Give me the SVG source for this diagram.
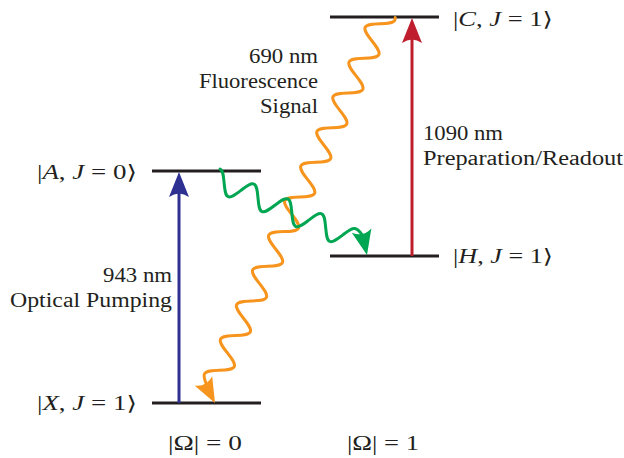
<svg xmlns="http://www.w3.org/2000/svg" xmlns:xlink="http://www.w3.org/1999/xlink" width="624" height="458" viewBox="0 0 624 458">
<style>
.lvl{stroke:#231f20;stroke-width:3;fill:none}
.t{font-family:"Liberation Serif","DejaVu Serif","DejaVu Sans",serif;font-size:20px;fill:#231f20}
.i{font-style:italic}
.wave{fill:none;stroke-width:3;stroke-linecap:round;stroke-linejoin:round}
</style>
<defs>
<path id="ah" d="M0,0 L-25,-10 Q-18,0 -25,10 Z"/>
</defs>
<rect width="624" height="458" fill="#ffffff"/>

<g id="level-X">
<line class="lvl" x1="152" y1="403" x2="261" y2="403"/>
<text class="t" x="37" y="410" textLength="100" lengthAdjust="spacingAndGlyphs">|<tspan class="i">X</tspan>, <tspan class="i">J</tspan> = 1⟩</text>
</g>
<g id="level-A">
<line class="lvl" x1="152" y1="171" x2="261" y2="171"/>
<text class="t" x="37" y="179" textLength="100" lengthAdjust="spacingAndGlyphs">|<tspan class="i">A</tspan>, <tspan class="i">J</tspan> = 0⟩</text>
</g>
<g id="level-H">
<line class="lvl" x1="330" y1="256" x2="439" y2="256"/>
<text class="t" x="453" y="263" textLength="100" lengthAdjust="spacingAndGlyphs">|<tspan class="i">H</tspan>, <tspan class="i">J</tspan> = 1⟩</text>
</g>
<g id="level-C">
<line class="lvl" x1="330" y1="17" x2="439" y2="17"/>
<text class="t" x="453" y="26" textLength="100" lengthAdjust="spacingAndGlyphs">|<tspan class="i">C</tspan>, <tspan class="i">J</tspan> = 1⟩</text>
</g>

<g id="connectors">
<line x1="179" y1="403" x2="179" y2="190" stroke="#2e3192" stroke-width="3"/>
<use xlink:href="#ah" fill="#2e3192" transform="translate(179,172) rotate(-90)"/>
<line x1="412" y1="256" x2="412" y2="36" stroke="#be1e2d" stroke-width="3"/>
<use xlink:href="#ah" fill="#be1e2d" transform="translate(412,18) rotate(-90)"/>

<path class="wave" stroke="#f7941d" transform="matrix(-0.4206,0.9073,0.9073,0.4206,372,41)" d="M-31,11.2 L-28.65,12 c3.46,0 6.44,-5.86 9.55,-12 s6.09,-12 9.55,-12 s6.44,5.86 9.55,12 s6.09,12 9.55,12 s6.44,-5.86 9.55,-12 s6.09,-12 9.55,-12 s6.44,5.86 9.55,12 s6.09,12 9.55,12 s6.44,-5.86 9.55,-12 s6.09,-12 9.55,-12 s6.44,5.86 9.55,12 s6.09,12 9.55,12 s6.44,-5.86 9.55,-12 s6.09,-12 9.55,-12 s6.44,5.86 9.55,12 s6.09,12 9.55,12 s6.44,-5.86 9.55,-12 s6.09,-12 9.55,-12 s6.44,5.86 9.55,12 s6.09,12 9.55,12 s6.44,-5.86 9.55,-12 s6.09,-12 9.55,-12 s6.44,5.86 9.55,12 s6.09,12 9.55,12 s6.44,-5.86 9.55,-12 s6.09,-12 9.55,-12 s6.44,5.86 9.55,12 s6.09,12 9.55,12 s6.44,-5.86 9.55,-12 s6.09,-12 9.55,-12 s6.44,5.86 9.55,12 s6.09,12 9.55,12 s6.44,-5.86 9.55,-12 s6.09,-12 9.55,-12 s6.44,5.86 9.55,12 s6.09,12 9.55,12 s6.44,-5.86 9.55,-12 s6.09,-12 9.55,-12 s6.44,5.86 9.55,12 s6.09,12 9.55,12 s6.44,-5.86 9.55,-12 s6.09,-12 9.55,-12 c3.05,0 8.95,6 11.35,9.2"/>
<use xlink:href="#ah" fill="#f7941d" transform="translate(215,403) rotate(62.2)"/>

<path class="wave" stroke="#00a651" transform="matrix(0.915,0.403,0.403,-0.915,241.05,190.35)" d="M-27.75,11 c3.35,0 6.235,-5.63 9.25,-11 s5.9,-11 9.25,-11 s6.235,5.63 9.25,11 s5.9,11 9.25,11 s6.235,-5.63 9.25,-11 s5.9,-11 9.25,-11 s6.235,5.63 9.25,11 s5.9,11 9.25,11 s6.235,-5.63 9.25,-11 s5.9,-11 9.25,-11 s6.235,5.63 9.25,11 s5.9,11 9.25,11 s6.235,-5.63 9.25,-11 s5.9,-11 9.25,-11 s6.235,5.63 9.25,11 s5.9,11 9.25,11 c3.25,0 8.35,-1.8 10.75,-5"/>
<use xlink:href="#ah" fill="#00a651" transform="translate(367,255) rotate(77.5)"/>

<text class="t" x="172" y="282" text-anchor="end" textLength="69" lengthAdjust="spacingAndGlyphs">943 nm</text>
<text class="t" x="172" y="307" text-anchor="end" textLength="162" lengthAdjust="spacingAndGlyphs">Optical Pumping</text>
<text class="t" x="318" y="63" text-anchor="end" textLength="69" lengthAdjust="spacingAndGlyphs">690 nm</text>
<text class="t" x="318" y="88" text-anchor="end" textLength="119" lengthAdjust="spacingAndGlyphs">Fluorescence</text>
<text class="t" x="318" y="113" text-anchor="end" textLength="58" lengthAdjust="spacingAndGlyphs">Signal</text>
<text class="t" x="423" y="140" textLength="80" lengthAdjust="spacingAndGlyphs">1090 nm</text>
<text class="t" x="423" y="165" textLength="200" lengthAdjust="spacingAndGlyphs">Preparation/Readout</text>
</g>

<g id="omega-labels">
<text class="t" x="168" y="450" textLength="74" lengthAdjust="spacingAndGlyphs">|Ω| = 0</text>
<text class="t" x="347" y="450" textLength="72" lengthAdjust="spacingAndGlyphs">|Ω| = 1</text>
</g>
</svg>
